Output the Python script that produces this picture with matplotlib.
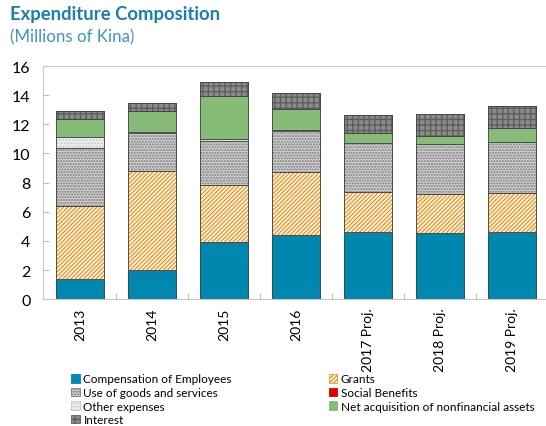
import numpy as np
import matplotlib
matplotlib.use("Agg")
import matplotlib.pyplot as plt

plt.rcParams['font.family'] = ['Lato', 'DejaVu Sans']
plt.rcParams['hatch.linewidth'] = 1.0

years = ['2013', '2014', '2015', '2016', '2017 Proj.', '2018 Proj.', '2019 Proj.']
compensation = [1.37, 1.97, 3.91, 4.42, 4.58, 4.51, 4.58]
grants = [5.00, 6.84, 3.94, 4.28, 2.75, 2.70, 2.70]
goods_services = [3.98, 2.59, 3.00, 2.85, 3.36, 3.41, 3.48]
social_benefits = [0, 0, 0, 0, 0, 0, 0]
other_expenses = [0.80, 0.10, 0.14, 0.05, 0, 0, 0]
nonfinancial_assets = [1.21, 1.39, 2.98, 1.45, 0.71, 0.55, 0.96]
interest = [0.54, 0.55, 0.96, 1.08, 1.24, 1.51, 1.56]

# label, values, facecolor, hatch, hatch colour
series = [
    ('Compensation of Employees', compensation, '#0087b0', None, '#0087b0'),
    ('Grants', grants, 'white', '////////', '#f7941d'),
    ('Use of goods and services', goods_services, '#d0d0d0', '......', '#7a7a7a'),
    ('Social Benefits', social_benefits, '#e00000', None, '#e00000'),
    ('Other expenses', other_expenses, '#eeeeee', '.....', '#c8c8c8'),
    ('Net acquisition of nonfinancial assets', nonfinancial_assets, '#86bc78', None, '#86bc78'),
    ('Interest', interest, '#8c8c8c', '+++', '#5e5e5e'),
]

fig = plt.figure(figsize=(5.46, 4.27), dpi=100)
ax = fig.add_axes([0.079, 0.297, 0.921, 0.546])

x = np.arange(len(years))
width = 0.67
bottom = np.zeros(len(years))
handles = {}
for label, vals, fc, hatch, hc in series:
    vals = np.array(vals)
    b = ax.bar(x, vals, width, bottom=bottom, color=fc, edgecolor=hc,
               hatch=hatch, linewidth=0.6, label=label)
    ax.bar(x, vals, width, bottom=bottom, fill=False, edgecolor='#404040', linewidth=0.6)
    handles[label] = b
    bottom += vals

ax.set_xlim(-0.51, 6.47)
ax.set_ylim(0, 16)
ax.set_yticks(range(0, 17, 2))
ax.set_xticks(x)
ax.set_xticklabels(years, rotation=90, fontsize=10)
ax.tick_params(axis='x', length=0, pad=6)
ax.set_xticks(x[:-1] + 0.5, minor=True)
ax.tick_params(axis='x', which='minor', direction='in', length=4, color='#bbbbbb')
ax.tick_params(axis='y', direction='in', length=4, color='#bbbbbb', labelsize=11.5, pad=9)

for s in ['left', 'bottom', 'top']:
    ax.spines[s].set_color('#c8c8c8')
ax.spines['right'].set_visible(False)

fig.text(0.018, 0.965, 'Expenditure Composition', fontsize=13.3, fontweight='bold',
         color='#1a7fb0', va='center')
fig.text(0.018, 0.912, '(Millions of Kina)', fontsize=12.2, color='#3d95c4', va='center')

order = ['Compensation of Employees', 'Use of goods and services', 'Other expenses', 'Interest',
         'Grants', 'Social Benefits', 'Net acquisition of nonfinancial assets']
leg = fig.legend([handles[k] for k in order], order, ncol=2, loc='upper left',
                 bbox_to_anchor=(0.130, 0.123), frameon=False, fontsize=8.5,
                 handlelength=0.75, handleheight=0.75, handletextpad=0.3,
                 labelspacing=0.22, columnspacing=8.2, borderpad=0, borderaxespad=0)

fig.savefig('out.png', dpi=100)
